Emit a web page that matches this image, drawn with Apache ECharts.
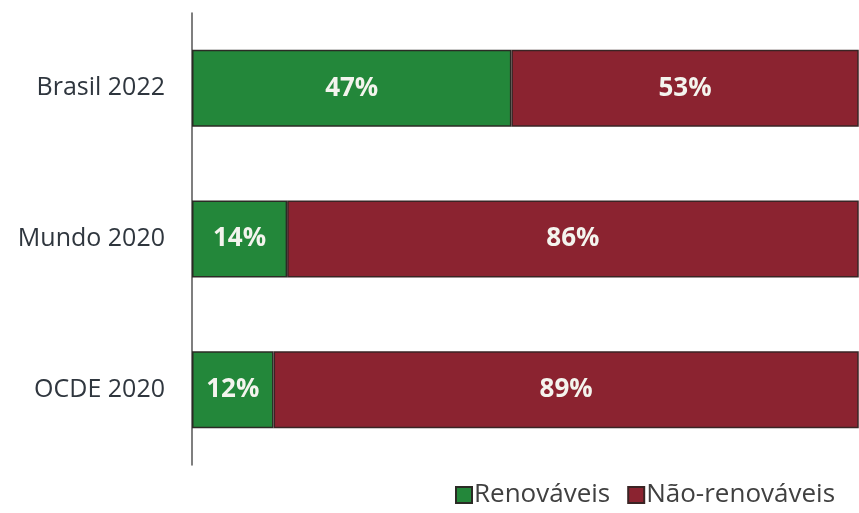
<!DOCTYPE html>
<html>
<head>
<meta charset="utf-8">
<script src="https://cdn.jsdelivr.net/npm/echarts@6/dist/echarts.min.js"></script>
<style>html,body{margin:0;padding:0;background:#fff}#c{width:859px;height:513px}</style>
</head>
<body>
<div id="c"></div>
<script>
const categories = ['Brasil 2022', 'Mundo 2020', 'OCDE 2020'];
const renovaveis = [47, 14, 12];
const naoRenovaveis = [53, 86, 89];
const seriesNames = ['Renováveis', 'Não-renováveis'];

const chart = echarts.init(document.getElementById('c'), null, {renderer: 'canvas'});
const FONT = '"Open Sans", "Noto Sans", sans-serif';
const labelStyle = {
  show: true, position: 'inside', color: '#f4f4ee', fontWeight: 'bold',
  fontSize: 26, fontFamily: FONT, formatter: p => p.value + '%'
};
chart.setOption({
  animation: false,
  backgroundColor: '#ffffff',
  grid: {left: 192, right: 1, top: 13, bottom: 48, containLabel: false},
  xAxis: {type: 'value', min: 0, max: 98, show: false},
  yAxis: {
    type: 'category', data: categories, inverse: true,
    axisLine: {show: true, lineStyle: {color: '#555555', width: 1.5}},
    axisTick: {show: false},
    axisLabel: {color: '#2f363e', fontSize: 25, fontFamily: FONT, margin: 27}
  },
  legend: {
    left: 450, top: 477, itemWidth: 16, itemHeight: 16, itemGap: 17,
    icon: 'rect',
    textStyle: {color: '#404040', fontSize: 26, fontFamily: FONT, padding: [0, 0, 0, -3]},
    data: seriesNames
  },
  series: [
    {name: seriesNames[0], type: 'bar', stack: 'total', data: renovaveis, barWidth: 77,
     itemStyle: {color: '#23873a', borderColor: '#2b2b25', borderWidth: 1.5},
     label: labelStyle},
    {name: seriesNames[1], type: 'bar', stack: 'total', data: naoRenovaveis, barWidth: 77,
     itemStyle: {color: '#8b2330', borderColor: '#3a2424', borderWidth: 1.5},
     label: labelStyle}
  ]
});
</script>
</body>
</html>
